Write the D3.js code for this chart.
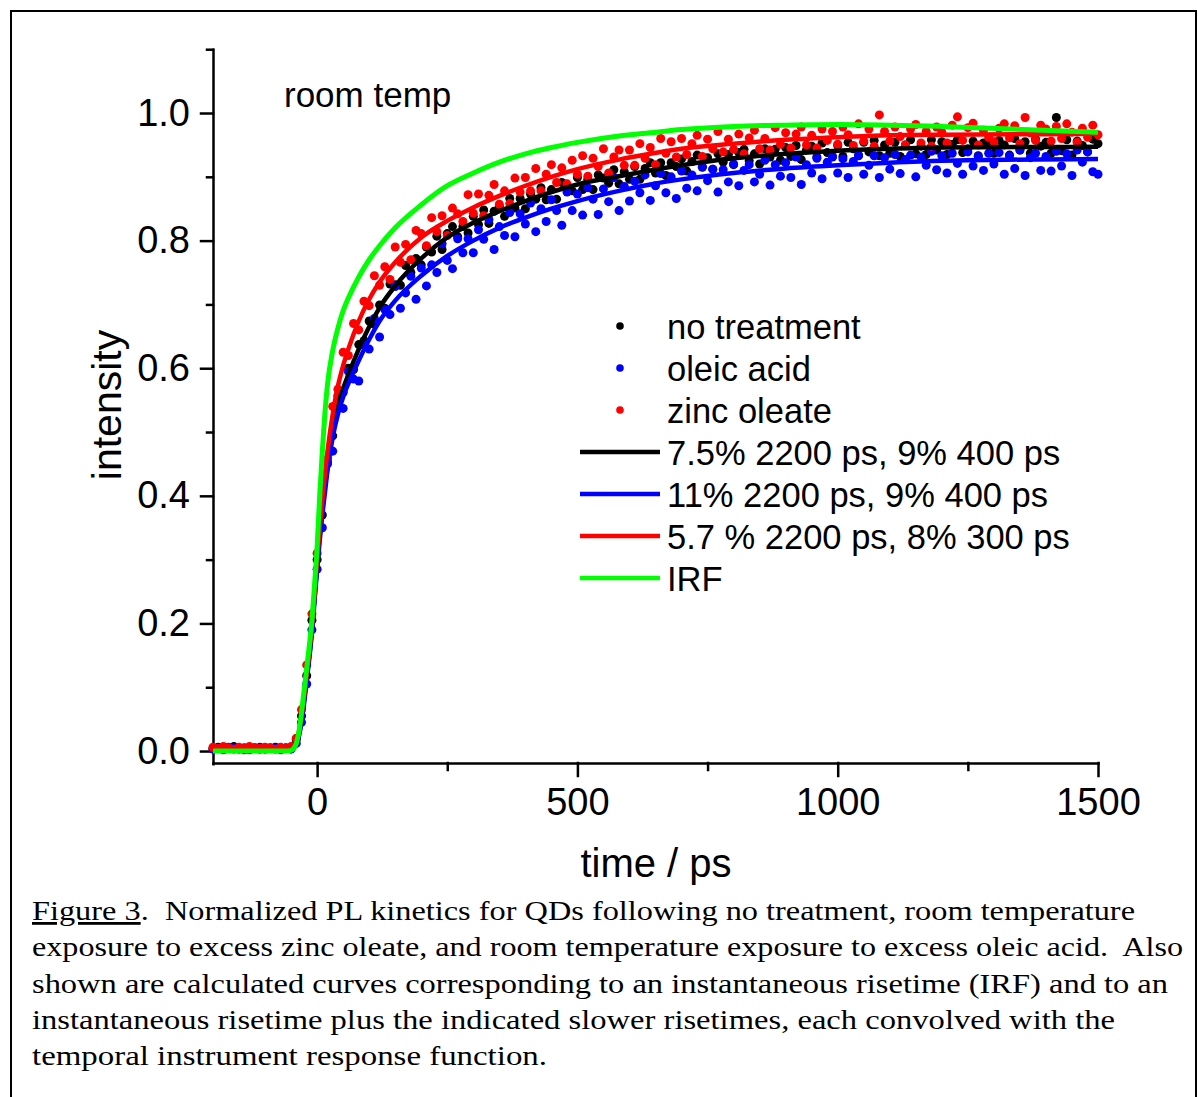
<!DOCTYPE html>
<html lang="en">
<head>
<meta charset="UTF-8">
<title>PL kinetics - room temp</title>
<style>
    body { margin: 0; background: #fff; }
    svg { display: block; }
    .axis path, .axis line { stroke: #000; stroke-width: 2.5px; stroke-linecap: square; }
    .axis text { font-family: "Liberation Sans", Arial, sans-serif; font-size: 38px; fill: #000; }
    .label { font-family: "Liberation Sans", Arial, sans-serif; fill: #000; }
    .caption { font-family: "Liberation Serif", "Times New Roman", serif; font-size: 28px; fill: #000; white-space: pre; }
</style>
</head>
<body>
<svg width="1198" height="1097"></svg>

<script src="https://d3js.org/d3.v7.min.js"></script>
<script>

// sampling times of the measured kinetics (ps)
var sampleTimes = [
    -200, -190, -180, -170, -160, -150, -140, -130, -120, -110,
    -100, -90, -80, -70, -60, -50, -40, -30, -20, -10,
    0, 10, 20, 30, 40, 50, 60, 70, 80, 90,
    100, 110, 120, 130, 140, 150, 160, 170, 180, 190,
    200, 210, 220, 230, 240, 250, 260, 270, 280, 290,
    300, 310, 320, 330, 340, 350, 360, 370, 380, 390,
    400, 410, 420, 430, 440, 450, 460, 470, 480, 490,
    500, 510, 520, 530, 540, 550, 560, 570, 580, 590,
    600, 610, 620, 630, 640, 650, 660, 670, 680, 690,
    700, 710, 720, 730, 740, 750, 760, 770, 780, 790,
    800, 810, 820, 830, 840, 850, 860, 870, 880, 890,
    900, 910, 920, 930, 940, 950, 960, 970, 980, 990,
    1000, 1010, 1020, 1030, 1040, 1050, 1060, 1070, 1080, 1090,
    1100, 1110, 1120, 1130, 1140, 1150, 1160, 1170, 1180, 1190,
    1200, 1210, 1220, 1230, 1240, 1250, 1260, 1270, 1280, 1290,
    1300, 1310, 1320, 1330, 1340, 1350, 1360, 1370, 1380, 1390,
    1400, 1410, 1420, 1430, 1440, 1450, 1460, 1470, 1480, 1490,
    1500
];

var noTreatment = [
    0.004, 0.006, 0.003, 0.005, 0.007, 0.004, 0.002, 0.006, 0.005, 0.003,
    0.005, 0.004, 0.006, 0.003, 0.005, 0.006, 0.018, 0.055, 0.118, 0.205,
    0.300, 0.370, 0.453, 0.494, 0.557, 0.562, 0.600, 0.598, 0.637, 0.643,
    0.674, 0.669, 0.699, 0.694, 0.732, 0.731, 0.730, 0.761, 0.750, 0.772,
    0.762, 0.790, 0.782, 0.807, 0.786, 0.811, 0.822, 0.806, 0.822, 0.812,
    0.838, 0.825, 0.848, 0.827, 0.846, 0.854, 0.838, 0.866, 0.851, 0.866,
    0.850, 0.873, 0.865, 0.883, 0.864, 0.880, 0.865, 0.891, 0.886, 0.878,
    0.899, 0.880, 0.896, 0.880, 0.903, 0.898, 0.890, 0.911, 0.889, 0.908,
    0.896, 0.916, 0.896, 0.913, 0.922, 0.906, 0.922, 0.902, 0.922, 0.916,
    0.928, 0.909, 0.924, 0.934, 0.915, 0.930, 0.912, 0.936, 0.923, 0.935,
    0.919, 0.938, 0.943, 0.925, 0.936, 0.920, 0.944, 0.931, 0.943, 0.926,
    0.946, 0.932, 0.949, 0.927, 0.942, 0.948, 0.931, 0.953, 0.938, 0.931,
    0.949, 0.932, 0.954, 0.944, 0.933, 0.954, 0.939, 0.957, 0.933, 0.950,
    0.937, 0.954, 0.932, 0.950, 0.958, 0.936, 0.948, 0.935, 0.958, 0.942,
    0.955, 0.935, 0.951, 0.958, 0.938, 0.944, 0.956, 0.933, 0.953, 0.949,
    0.937, 0.957, 0.950, 0.934, 0.960, 0.942, 0.955, 0.937, 0.959, 0.948,
    0.954, 0.937, 0.993, 0.941, 0.958, 0.934, 0.956, 0.949, 0.939, 0.959,
    0.952
];

var oleicAcid = [
    0.003, 0.005, 0.002, 0.006, 0.004, 0.003, 0.005, 0.002, 0.004, 0.006,
    0.003, 0.005, 0.004, 0.002, 0.004, 0.003, 0.012, 0.045, 0.105, 0.190,
    0.285, 0.350, 0.450, 0.470, 0.542, 0.537, 0.595, 0.583, 0.580, 0.636,
    0.630, 0.678, 0.649, 0.692, 0.684, 0.728, 0.694, 0.718, 0.744, 0.708,
    0.757, 0.729, 0.762, 0.750, 0.795, 0.769, 0.756, 0.803, 0.781, 0.803,
    0.781, 0.817, 0.802, 0.833, 0.786, 0.822, 0.808, 0.844, 0.806, 0.842,
    0.826, 0.859, 0.814, 0.850, 0.830, 0.864, 0.847, 0.824, 0.876, 0.847,
    0.873, 0.840, 0.883, 0.865, 0.841, 0.881, 0.861, 0.899, 0.847, 0.885,
    0.862, 0.893, 0.875, 0.903, 0.863, 0.886, 0.905, 0.875, 0.900, 0.866,
    0.909, 0.882, 0.903, 0.878, 0.916, 0.894, 0.912, 0.876, 0.911, 0.892,
    0.920, 0.886, 0.910, 0.919, 0.892, 0.904, 0.926, 0.887, 0.919, 0.901,
    0.922, 0.899, 0.931, 0.888, 0.919, 0.906, 0.929, 0.897, 0.923, 0.932,
    0.906, 0.928, 0.899, 0.924, 0.934, 0.904, 0.918, 0.933, 0.899, 0.930,
    0.912, 0.935, 0.905, 0.927, 0.934, 0.900, 0.931, 0.918, 0.940, 0.911,
    0.933, 0.906, 0.937, 0.921, 0.904, 0.939, 0.917, 0.932, 0.910, 0.937,
    0.920, 0.938, 0.904, 0.933, 0.913, 0.942, 0.902, 0.930, 0.937, 0.910,
    0.932, 0.909, 0.940, 0.917, 0.936, 0.902, 0.942, 0.923, 0.939, 0.908,
    0.904
];

var zincOleate = [
    0.006, 0.004, 0.007, 0.005, 0.003, 0.006, 0.004, 0.007, 0.005, 0.004,
    0.006, 0.005, 0.003, 0.006, 0.004, 0.007, 0.020, 0.065, 0.135, 0.215,
    0.310, 0.410, 0.458, 0.540, 0.567, 0.625, 0.620, 0.670, 0.660, 0.705,
    0.698, 0.745, 0.730, 0.759, 0.739, 0.790, 0.766, 0.794, 0.770, 0.816,
    0.811, 0.792, 0.836, 0.814, 0.839, 0.808, 0.851, 0.842, 0.830, 0.872,
    0.843, 0.873, 0.839, 0.871, 0.888, 0.857, 0.878, 0.858, 0.898, 0.876,
    0.899, 0.878, 0.913, 0.878, 0.904, 0.919, 0.891, 0.914, 0.889, 0.926,
    0.904, 0.933, 0.901, 0.929, 0.916, 0.944, 0.906, 0.931, 0.942, 0.918,
    0.942, 0.918, 0.952, 0.929, 0.946, 0.919, 0.960, 0.937, 0.955, 0.931,
    0.960, 0.935, 0.952, 0.965, 0.932, 0.959, 0.944, 0.971, 0.939, 0.959,
    0.943, 0.967, 0.936, 0.961, 0.973, 0.944, 0.960, 0.942, 0.977, 0.951,
    0.969, 0.945, 0.967, 0.978, 0.950, 0.965, 0.945, 0.975, 0.957, 0.971,
    0.951, 0.978, 0.966, 0.949, 0.983, 0.956, 0.975, 0.948, 0.997, 0.971,
    0.956, 0.978, 0.963, 0.950, 0.975, 0.982, 0.953, 0.971, 0.948, 0.978,
    0.970, 0.953, 0.981, 0.994, 0.957, 0.977, 0.984, 0.950, 0.973, 0.962,
    0.955, 0.976, 0.983, 0.961, 0.980, 0.952, 0.993, 0.969, 0.957, 0.981,
    0.975, 0.956, 0.979, 0.960, 0.983, 0.970, 0.954, 0.976, 0.962, 0.981,
    0.966
];

var fitTimes = [-200, -60, -50, -45, -40, -35, -30, -25, -20, -15, -10, -5, 0, 5, 10, 15, 20, 30, 40, 50,
    60, 80, 100, 120, 150, 200, 250, 300, 350, 400, 450, 500, 580, 640, 700, 800, 900, 1000, 1100, 1200, 1500];

var fitBlack = [0.003, 0.003, 0.004, 0.006, 0.012, 0.026, 0.05, 0.08, 0.115, 0.15, 0.19, 0.24, 0.29, 0.34, 0.38, 0.415, 0.445, 0.50, 0.54, 0.568,
    0.59, 0.63, 0.665, 0.695, 0.729, 0.772, 0.805, 0.828, 0.846, 0.862, 0.876, 0.888, 0.901, 0.910, 0.918, 0.929, 0.936, 0.941, 0.944, 0.946, 0.947];

var fitBlue = [0.003, 0.003, 0.004, 0.005, 0.010, 0.023, 0.045, 0.075, 0.11, 0.145, 0.185, 0.235, 0.285, 0.33, 0.37, 0.405, 0.44, 0.492, 0.528, 0.555,
    0.576, 0.612, 0.645, 0.674, 0.706, 0.745, 0.776, 0.80, 0.82, 0.836, 0.85, 0.862, 0.878, 0.888, 0.896, 0.906, 0.913, 0.918, 0.922, 0.925, 0.928];

var fitRed = [0.004, 0.004, 0.005, 0.007, 0.014, 0.03, 0.055, 0.085, 0.12, 0.155, 0.195, 0.245, 0.30, 0.35, 0.395, 0.435, 0.47, 0.528, 0.572, 0.604,
    0.63, 0.674, 0.708, 0.735, 0.766, 0.805, 0.831, 0.852, 0.870, 0.886, 0.900, 0.912, 0.927, 0.936, 0.944, 0.952, 0.958, 0.962, 0.965, 0.966, 0.967];

var fitIRF = [0, 0, 0.001, 0.004, 0.012, 0.03, 0.06, 0.095, 0.13, 0.165, 0.205, 0.26, 0.32, 0.40, 0.47, 0.53, 0.575, 0.628, 0.663, 0.69,
    0.71, 0.743, 0.77, 0.792, 0.82, 0.856, 0.886, 0.906, 0.923, 0.936, 0.946, 0.954, 0.964, 0.969, 0.974, 0.979, 0.981, 0.982, 0.981, 0.979, 0.970];

var xMajorTicks = [0, 500, 1000, 1500];
var xMinorTicks = [250, 750, 1250];
var yMajorTicks = [0, 0.2, 0.4, 0.6, 0.8, 1.0];
var yMinorTicks = [0.1, 0.3, 0.5, 0.7, 0.9, 1.1];

var dotLabels = ["no treatment", "oleic acid", "zinc oleate"];
var fitLabels = ["7.5% 2200 ps, 9% 400 ps", "11% 2200 ps, 9% 400 ps", "5.7 % 2200 ps, 8% 300 ps", "IRF"];

var captionLines = [
    ".  Normalized PL kinetics for QDs following no treatment, room temperature",
    "exposure to excess zinc oleate, and room temperature exposure to excess oleic acid.  Also",
    "shown are calculated curves corresponding to an instantaneous risetime (IRF) and to an",
    "instantaneous risetime plus the indicated slower risetimes, each convolved with the",
    "temporal instrument response function."
];

// ---------------------------------------------------------------

var svg = d3.select("svg");

var dotColors = ["#000000", "#0000ff", "#ff0000"];
var fitColors = ["#000000", "#0000ff", "#ff0000", "#00ff00"];

var x = d3.scaleLinear().domain([-200, 1500]).range([213, 1098]);
var y = d3.scaleLinear().domain([-0.02, 1.1]).range([763.8, 49.2]);

// frame round the figure
svg.append("path")
    .attr("d", "M11,1097V11H1196V1097")
    .attr("fill", "none")
    .attr("stroke", "#000")
    .attr("stroke-width", 2);

// axes
svg.append("g")
    .attr("class", "axis")
    .attr("transform", "translate(0,763)")
    .call(d3.axisBottom(x).tickValues(xMajorTicks).tickFormat(d3.format("d"))
        .tickSize(13).tickSizeOuter(0).tickPadding(12));

svg.append("g")
    .attr("class", "axis")
    .attr("transform", "translate(0,763)")
    .call(d3.axisBottom(x).tickValues(xMinorTicks).tickFormat("").tickSize(7).tickSizeOuter(0))
    .select(".domain").remove();

svg.append("g")
    .attr("class", "axis")
    .attr("transform", "translate(213,0)")
    .call(d3.axisLeft(y).tickValues(yMajorTicks).tickFormat(d3.format(".1f"))
        .tickSize(12).tickSizeOuter(0).tickPadding(11));

svg.append("g")
    .attr("class", "axis")
    .attr("transform", "translate(213,0)")
    .call(d3.axisLeft(y).tickValues(yMinorTicks).tickFormat("").tickSize(6).tickSizeOuter(0))
    .select(".domain").remove();

svg.selectAll(".axis").attr("font-family", null).attr("font-size", null);

// measured points
var dotSeries = [noTreatment, oleicAcid, zincOleate];
dotSeries.forEach(function(values, k) {
    svg.append("g")
        .selectAll("circle")
        .data(values)
        .enter()
        .append("circle")
        .attr("cx", function(d, i) { return x(sampleTimes[i]); })
        .attr("cy", function(d) { return y(d); })
        .attr("r", 4.5)
        .attr("fill", dotColors[k]);
});

// calculated curves
var fitLine = d3.line()
    .x(function(d, i) { return x(fitTimes[i]); })
    .y(function(d) { return y(d); })
    .curve(d3.curveMonotoneX);

[fitBlack, fitBlue, fitRed, fitIRF].forEach(function(values, k) {
    svg.append("path")
        .datum(values)
        .attr("d", fitLine)
        .attr("fill", "none")
        .attr("stroke", fitColors[k])
        .attr("stroke-width", k == 3 ? 5 : 4.5)
        .attr("stroke-linejoin", "round");
});

// axis titles
svg.append("text")
    .attr("class", "label")
    .attr("text-anchor", "middle")
    .attr("font-size", 41)
    .attr("transform", "translate(121,405) rotate(-90)")
    .text("intensity");

svg.append("text")
    .attr("class", "label")
    .attr("text-anchor", "middle")
    .attr("font-size", 40)
    .attr("x", 656)
    .attr("y", 877)
    .text("time / ps");

svg.append("text")
    .attr("class", "label")
    .attr("font-size", 35)
    .attr("x", 284)
    .attr("y", 107)
    .text("room temp");

// legend
var legendX = 667, legendTop = 339, legendStep = 42;

dotLabels.forEach(function(label, i) {
    var by = legendTop + i * legendStep;
    svg.append("circle")
        .attr("cx", 620)
        .attr("cy", by - 13)
        .attr("r", 3.8)
        .attr("fill", dotColors[i]);
    svg.append("text")
        .attr("class", "label")
        .attr("font-size", 34.5)
        .attr("x", legendX)
        .attr("y", by)
        .text(label);
});

fitLabels.forEach(function(label, i) {
    var by = legendTop + (i + 3) * legendStep;
    svg.append("line")
        .attr("x1", 580)
        .attr("x2", 660)
        .attr("y1", by - 13)
        .attr("y2", by - 13)
        .attr("stroke", fitColors[i])
        .attr("stroke-width", 4.5);
    svg.append("text")
        .attr("class", "label")
        .attr("font-size", 34.5)
        .attr("x", legendX)
        .attr("y", by)
        .text(label);
});

// caption
var captionWidths = [1103, 1151, 1136, 1083, 515];
captionLines.forEach(function(line, i) {
    var t = svg.append("text")
        .attr("class", "caption")
        .attr("x", 32)
        .attr("y", 920 + i * 36.3)
        .attr("textLength", captionWidths[i])
        .attr("lengthAdjust", "spacingAndGlyphs");
    if (i == 0) {
        t.append("tspan").attr("text-decoration", "underline").text("Figure 3");
    }
    t.append("tspan").text(line);
});

</script>
</body>
</html>
